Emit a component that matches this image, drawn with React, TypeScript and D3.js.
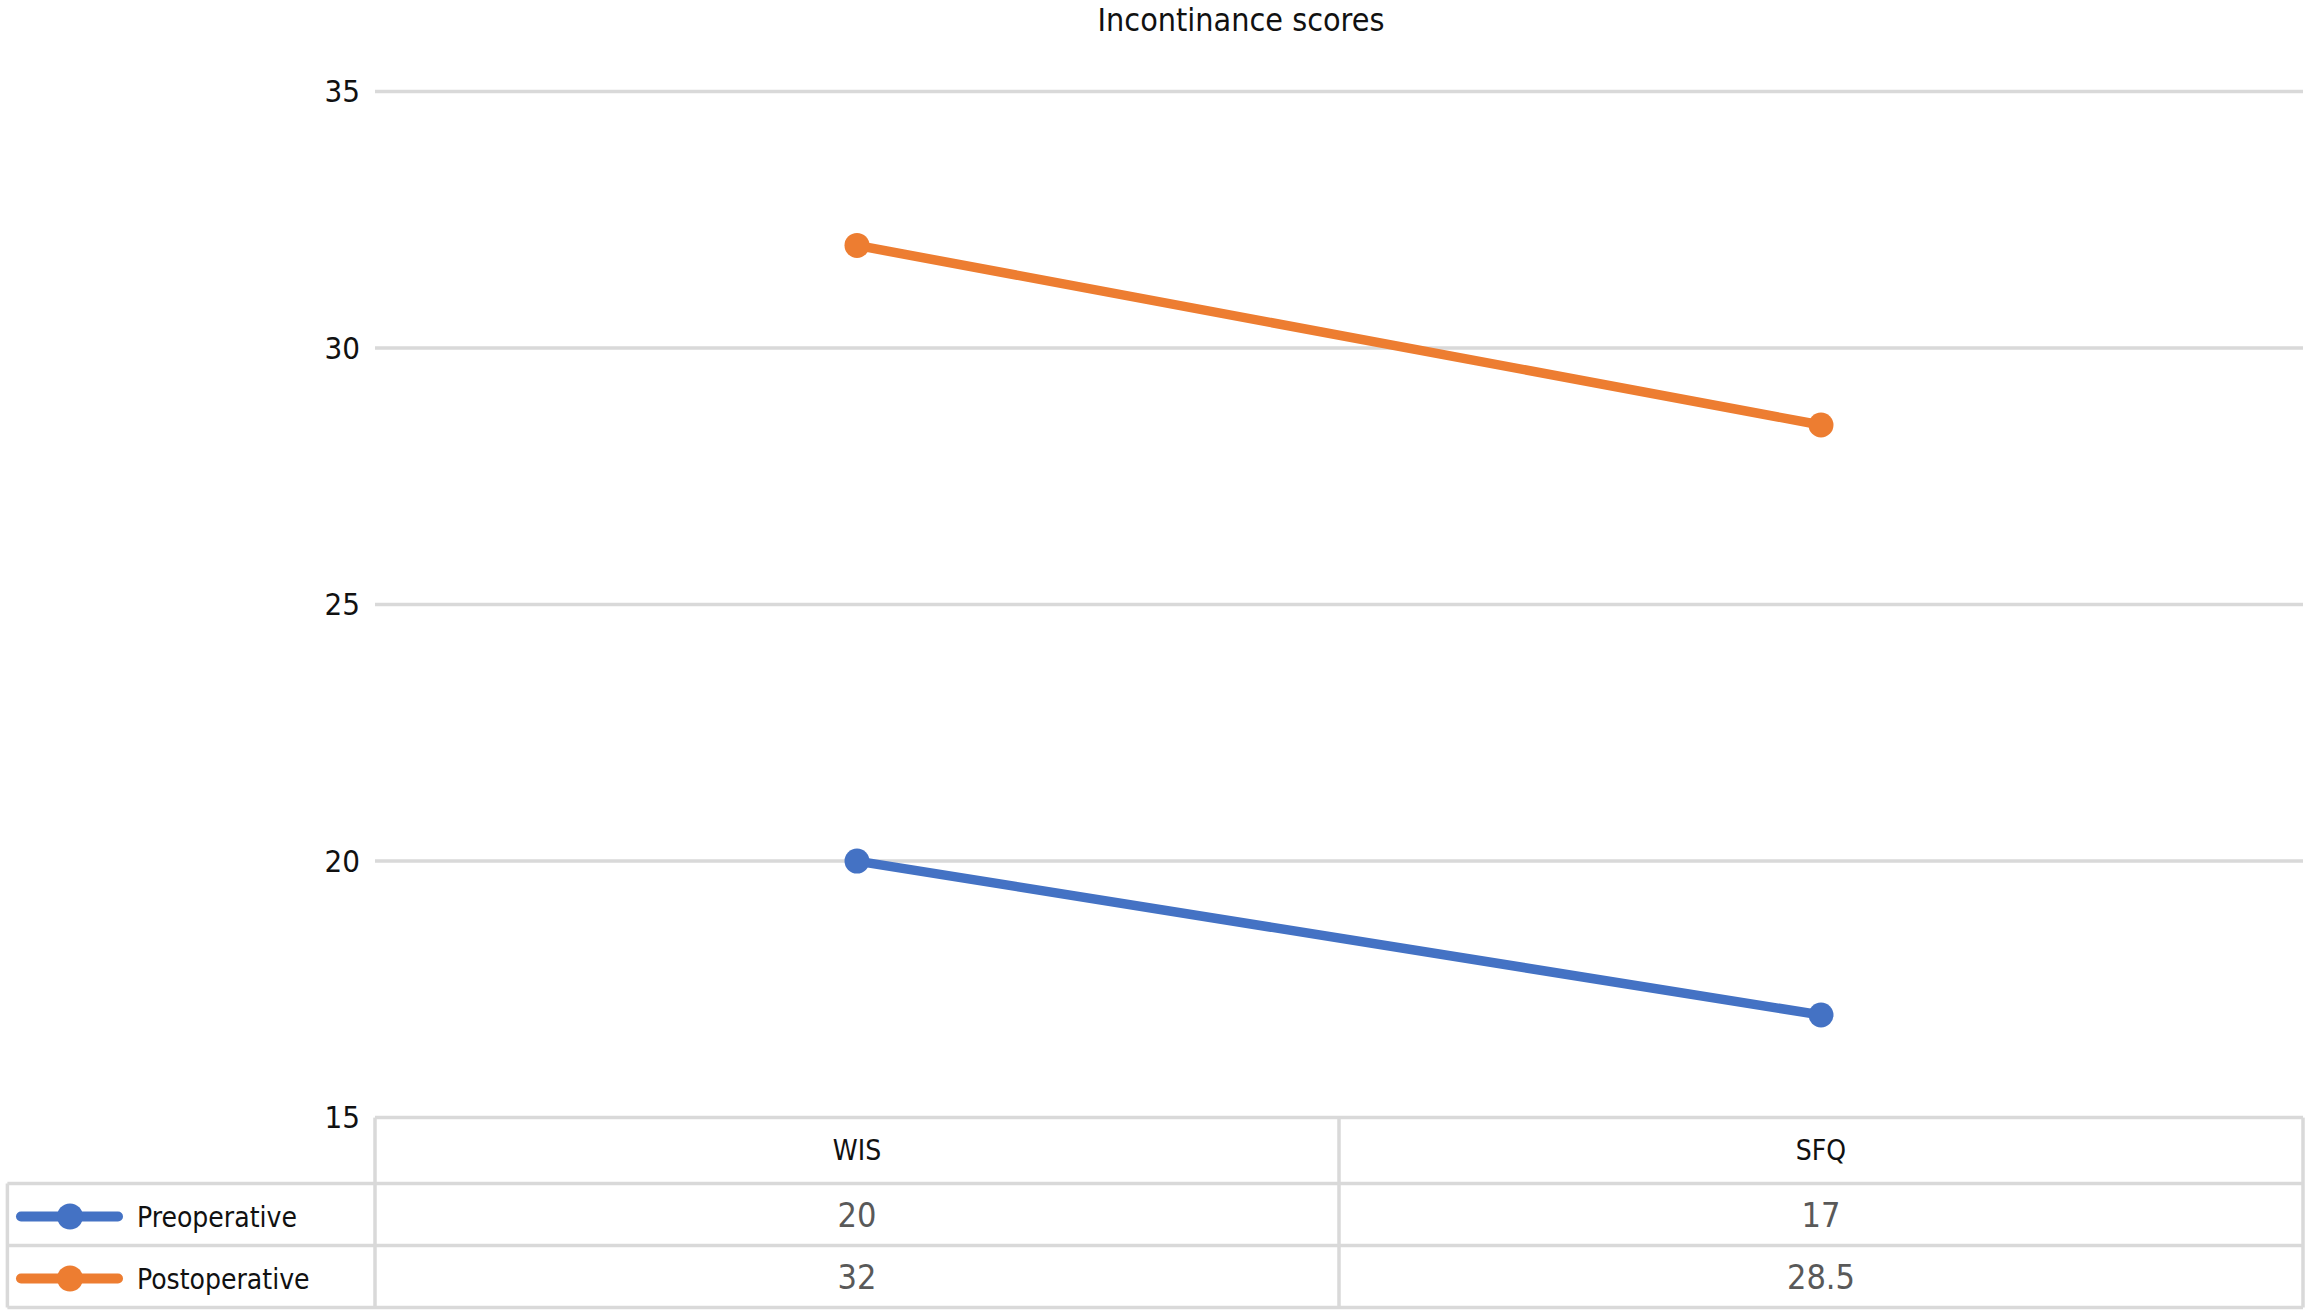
import React from "react";
import * as d3 from "d3";

const categories = ["WIS", "SFQ"];
const seriesNames = ["Preoperative", "Postoperative"];
const preoperative = [20, 17];
const postoperative = [32, 28.5];
const yTicks = [15, 20, 25, 30, 35];
const colors = ["#4472C4", "#ED7D31"];

const W = 2315;
const H = 1314;
const FONT = "'DejaVu Sans Condensed', 'DejaVu Sans', sans-serif";

export default function App() {
  const left = 375;
  const right = 2303;
  const top = 91.5;
  const bottom = 1117.6;
  const rowH = 62;
  const headerBottom = 1183.5;
  const tableBottom = headerBottom + 2 * rowH;
  const legendLeft = 7.4;
  const grid = "#d9d9d9";

  const x = d3.scaleBand<string>().domain(categories).range([left, right]);
  const y = d3.scaleLinear().domain([15, 35]).range([bottom, top]);
  const series = [preoperative, postoperative];
  const line = d3
    .line<number>()
    .x((_, i) => (x(categories[i]) as number) + x.bandwidth() / 2)
    .y((v) => y(v));

  return (
    <svg width={W} height={H} style={{ display: "block", position: "absolute", left: 0, top: 0 }}>
      <rect width={W} height={H} fill="#fff" />
      <text x={1241} y={31} textAnchor="middle" fontFamily={FONT} fontSize={32} fill="#111">
        Incontinance scores
      </text>
      {yTicks.map((t) => (
        <g key={t}>
          {t !== 15 && (
            <line x1={left} x2={right} y1={y(t)} y2={y(t)} stroke={grid} strokeWidth={3.5} />
          )}
          <text x={360} y={y(t)} dy="0.35em" textAnchor="end" fontFamily={FONT} fontSize={31} fill="#111">
            {t}
          </text>
        </g>
      ))}
      {/* table */}
      <g stroke={grid} strokeWidth={3.5} fill="none">
        <line x1={left} x2={right} y1={bottom} y2={bottom} />
        <line x1={legendLeft} x2={right} y1={headerBottom} y2={headerBottom} />
        <line x1={legendLeft} x2={right} y1={headerBottom + rowH} y2={headerBottom + rowH} />
        <line x1={legendLeft} x2={right} y1={tableBottom} y2={tableBottom} />
        <line x1={legendLeft} x2={legendLeft} y1={headerBottom} y2={tableBottom} />
        {[...categories.map((c) => x(c) as number), right].map((xx, i) => (
          <line key={i} x1={xx} x2={xx} y1={bottom} y2={tableBottom} />
        ))}
      </g>
      {categories.map((c) => (
        <text
          key={c}
          x={(x(c) as number) + x.bandwidth() / 2}
          y={(bottom + headerBottom) / 2}
          dy="0.35em"
          textAnchor="middle"
          fontFamily={FONT}
          fontSize={28}
          fill="#111"
        >
          {c}
        </text>
      ))}
      {series.map((vals, si) => {
        const cy = headerBottom + rowH * si + rowH / 2;
        return (
          <g key={si}>
            <line x1={21} x2={118} y1={cy + 2} y2={cy + 2} stroke={colors[si]} strokeWidth={10} strokeLinecap="round" />
            <circle cx={70} cy={cy + 2} r={13} fill={colors[si]} />
            <text x={137} y={cy + 3} dy="0.35em" fontFamily={FONT} fontSize={28} fill="#111">
              {seriesNames[si]}
            </text>
            {vals.map((v, i) => (
              <text
                key={i}
                x={(x(categories[i]) as number) + x.bandwidth() / 2}
                y={cy + 1}
                dy="0.35em"
                textAnchor="middle"
                fontFamily={FONT}
                fontSize={34}
                fill="#595959"
              >
                {v}
              </text>
            ))}
          </g>
        );
      })}
      {series.map((vals, si) => (
        <g key={"s" + si}>
          <path d={line(vals) ?? ""} fill="none" stroke={colors[si]} strokeWidth={9.5} strokeLinecap="round" />
          {vals.map((v, i) => (
            <circle
              key={i}
              cx={(x(categories[i]) as number) + x.bandwidth() / 2}
              cy={y(v)}
              r={12.5}
              fill={colors[si]}
            />
          ))}
        </g>
      ))}
    </svg>
  );
}
